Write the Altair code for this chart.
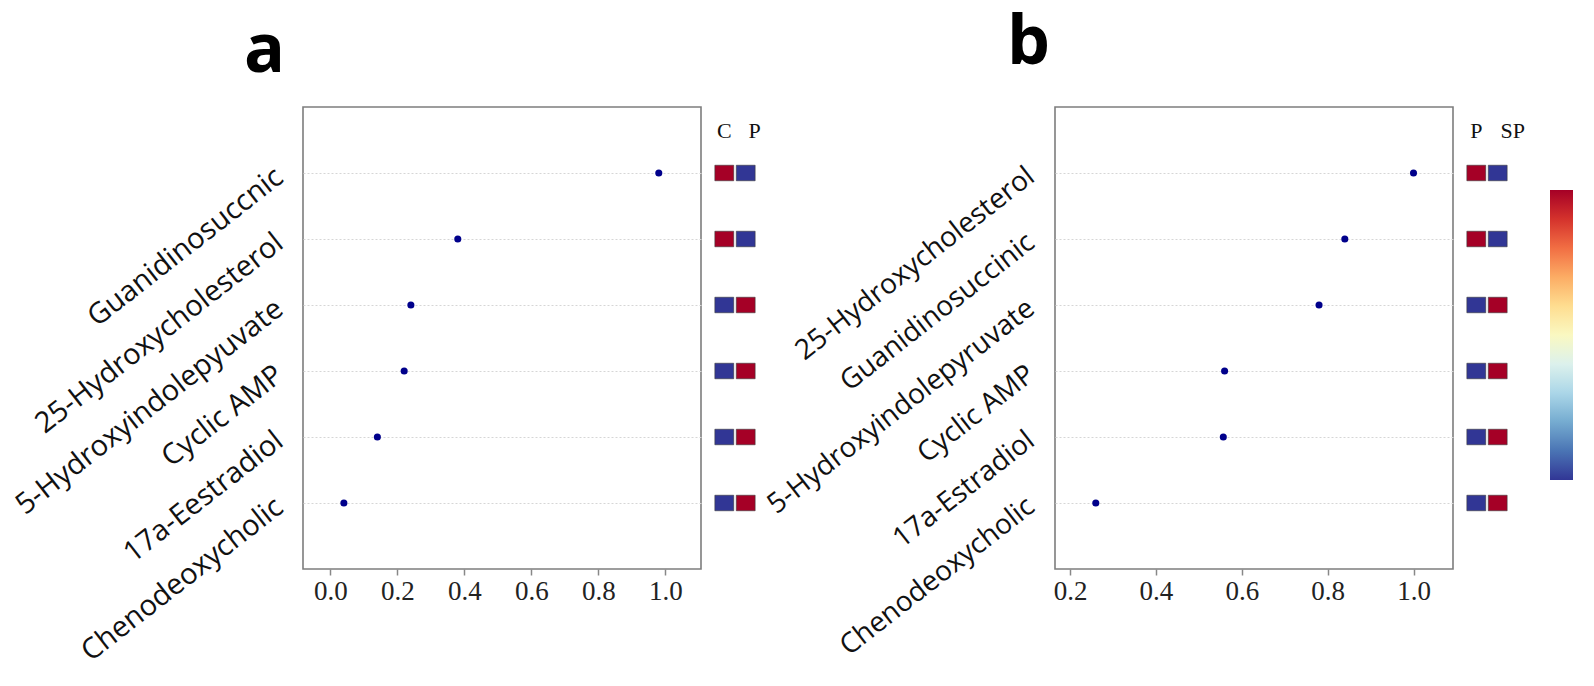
import altair as alt
import pandas as pd

# ---------------- data ----------------
names_a = ["Guanidinosuccnic", "25-Hydroxycholesterol", "5-Hydroxyindolepyuvate",
           "Cyclic AMP", "17a-Eestradiol", "Chenodeoxycholic"]
vals_a = [0.98, 0.38, 0.24, 0.22, 0.14, 0.04]
cols_a = ["C", "P"]
heat_a_first = [1, 1, -1, -1, -1, -1]
heat_a_second = [-1, -1, 1, 1, 1, 1]

names_b = ["25-Hydroxycholesterol", "Guanidinosuccinic", "5-Hydroxyindolepyruvate",
           "Cyclic AMP", "17a-Estradiol", "Chenodeoxycholic"]
vals_b = [1.00, 0.84, 0.78, 0.56, 0.557, 0.26]
cols_b = ["P", "SP"]
heat_b_first = [1, 1, -1, -1, -1, -1]
heat_b_second = [-1, -1, 1, 1, 1, 1]

ticks_a = [0.0, 0.2, 0.4, 0.6, 0.8, 1.0]
ticks_b = [0.2, 0.4, 0.6, 0.8, 1.0]

PW, PH = 398, 462
LABEL_FONT = "Open Sans"
SERIF = "Liberation Serif"


def dot_panel(names, vals, domain, ticks, letter, ldx, ldy, label_size):
    df = pd.DataFrame({"name": names, "value": vals})
    y = alt.Y("name:N", sort=names, title=None,
              scale=alt.Scale(type="point", padding=1),
              axis=alt.Axis(labelAngle=322, labelAlign="right", labelBaseline="middle",
                            labelFont=LABEL_FONT, labelFontSize=label_size,
                            labelColor="#111", labelPadding=24, labelLimit=0,
                            ticks=False, domain=False,
                            grid=True, gridDash=[2, 2], gridColor="#d6d6d6", gridWidth=1))
    x = alt.X("value:Q", title=None,
              scale=alt.Scale(domain=domain, nice=False, zero=False),
              axis=alt.Axis(values=ticks, format=".1f", grid=False, domain=False,
                            tickColor="#888", tickSize=6, tickWidth=1.5,
                            labelFont=SERIF, labelFontSize=27, labelColor="#222",
                            labelPadding=3, labelFlush=False))
    pts = alt.Chart(df).mark_circle(size=50, color="#00008B", opacity=1).encode(x=x, y=y)
    tag = alt.Chart(pd.DataFrame({"t": [letter]})).mark_text(
        font=LABEL_FONT, fontSize=68, fontWeight="bold", color="black",
        align="left", baseline="alphabetic"
    ).encode(text="t:N", x=alt.value(ldx), y=alt.value(ldy))
    return alt.layer(pts, tag).properties(
        width=PW, height=PH,
        view=alt.ViewBackground(stroke="#7d7d7d", strokeWidth=1.6),
    )


def heat_panel(names, cols, first, second, head_offset):
    rows = []
    for n, f, s in zip(names, first, second):
        rows.append({"name": n, "col": cols[0], "level": f})
        rows.append({"name": n, "col": cols[1], "level": s})
    df = pd.DataFrame(rows)
    cond_offset = {"condition": {"test": "datum.index > 0", "value": head_offset}, "value": 0}
    return alt.Chart(df).mark_rect(stroke="#3a3a3a", strokeWidth=0.6).encode(
        x=alt.X("col:N", sort=cols, title=None,
                scale=alt.Scale(paddingInner=0.12, paddingOuter=0.04),
                axis=alt.Axis(orient="top", labelAngle=0, domain=False, ticks=False,
                              tickSize=0, labelFont=SERIF, labelFontSize=22,
                              labelColor="#111", labelPadding=-35,
                              labelOffset=cond_offset)),
        y=alt.Y("name:N", sort=names, title=None, axis=None,
                scale=alt.Scale(paddingInner=0.765, paddingOuter=0.8825)),
        color=alt.Color("level:Q",
                        scale=alt.Scale(scheme="redyellowblue", domain=[-1, 1], reverse=True),
                        legend=alt.Legend(orient="none", legendX=1247, legendY=83,
                                          direction="vertical", gradientLength=290,
                                          gradientThickness=23, labelOpacity=0,
                                          labelExpr="''", title=None,
                                          gradientStrokeWidth=0)),
    ).properties(width=42, height=PH, view=alt.ViewBackground(stroke="transparent"))


panel_a = dot_panel(names_a, vals_a, [-0.082, 1.106], ticks_a, "a", -59, -35, 29)
heat_a = heat_panel(names_a, cols_a, heat_a_first, heat_a_second, 9)
panel_b = dot_panel(names_b, vals_b, [0.165, 1.092], ticks_b, "b", -48, -43, 28)
heat_b = heat_panel(names_b, cols_b, heat_b_first, heat_b_second, 15)

left = alt.hconcat(panel_a, heat_a, spacing=11).resolve_scale(
    x="independent", y="independent", color="shared")
right = alt.hconcat(panel_b, heat_b, spacing=11).resolve_scale(
    x="independent", y="independent", color="shared")

chart = alt.hconcat(left, right, spacing=0).resolve_scale(
    x="independent", y="independent", color="shared"
).properties(
    padding={"left": 1, "top": 1, "right": 5, "bottom": 5}
).configure(background="white").configure_view(stroke="transparent")

chart.save("out.html", embed_options={"renderer": "svg", "actions": False})
